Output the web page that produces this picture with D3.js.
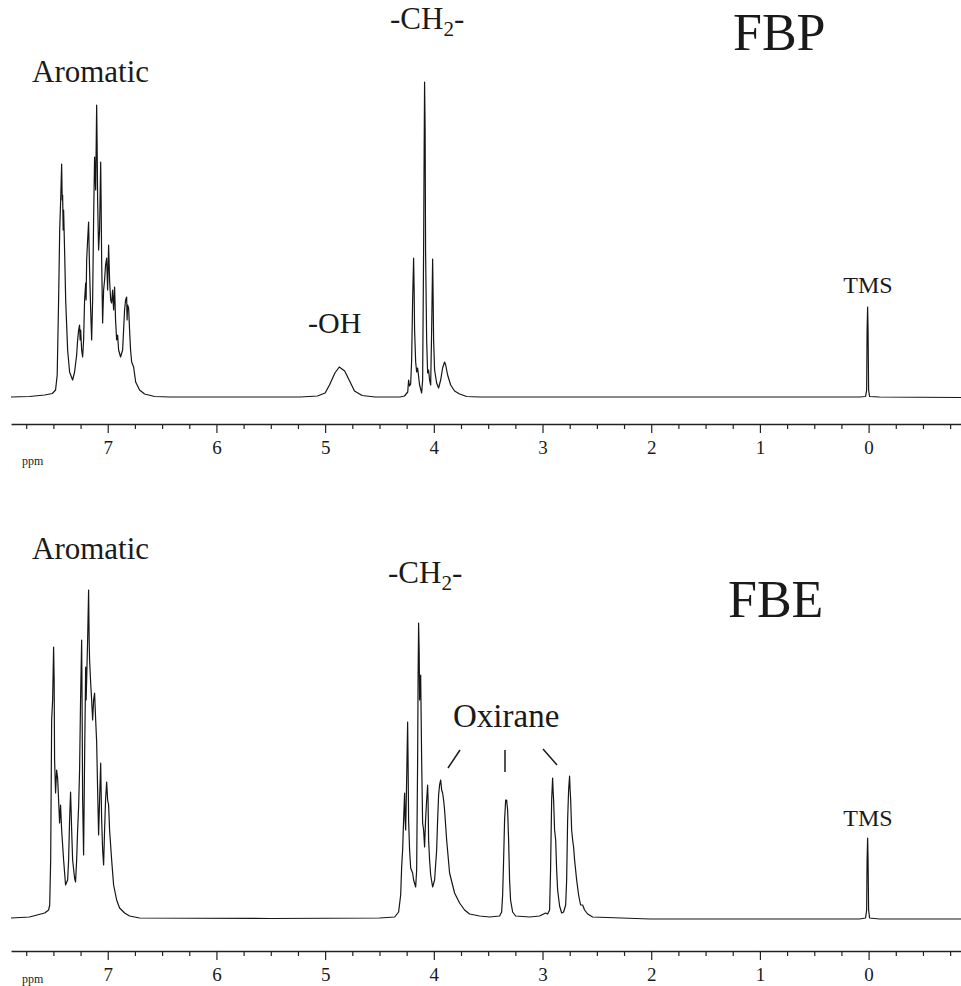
<!DOCTYPE html>
<html><head><meta charset="utf-8">
<script src="https://cdn.jsdelivr.net/npm/d3@7"></script>
<style>
body{margin:0;background:#fff}
text{font-family:"Liberation Serif","Times New Roman",serif;fill:#1a1a1a}
</style>
</head><body>
<svg id="chart" width="961" height="986"></svg>
<script>
// ---------- DATA (ppm, relative intensity in a.u.) ----------
const majorTicks = [7, 6, 5, 4, 3, 2, 1, 0];
const minorTicks = [7.75,7.5,7.25,6.75,6.5,6.25,5.75,5.5,5.25,4.75,4.5,4.25,3.75,3.5,3.25,2.75,2.5,2.25,1.75,1.5,1.25,0.75,0.5,0.25,-0.25,-0.5,-0.75];
const ppmDomain = [7.89, -0.85];

const fbpSpectrum = [
[7.89,0],[7.72,0.5],[7.58,2],[7.51,3.5],[7.48,7],[7.465,22],[7.452,97],[7.442,167],[7.433,197],[7.424,233],
[7.419,197],[7.415,202],[7.410,167],[7.406,187],[7.397,147],[7.387,97],[7.369,47],[7.351,25],[7.323,17],[7.305,25],
[7.286,42],[7.277,57],[7.268,67],[7.259,72],[7.254,57],[7.249,67],[7.240,47],[7.231,40],[7.222,57],[7.213,97],
[7.203,114],[7.199,97],[7.194,137],[7.185,157],[7.176,175],[7.171,147],[7.167,127],[7.157,87],[7.148,57],[7.139,97],
[7.130,177],[7.121,240],[7.111,207],[7.102,292],[7.098,257],[7.093,197],[7.084,147],[7.075,167],[7.065,235],[7.061,197],
[7.056,137],[7.047,74],[7.038,107],[7.029,117],[7.020,132],[7.010,139],[7.001,107],[6.992,152],[6.983,117],[6.973,97],
[6.964,94],[6.955,107],[6.946,87],[6.937,110],[6.928,77],[6.918,57],[6.909,62],[6.900,47],[6.882,40],[6.863,47],
[6.854,67],[6.845,87],[6.836,97],[6.826,100],[6.822,77],[6.817,92],[6.808,89],[6.799,67],[6.790,47],[6.780,35],
[6.762,30],[6.743,15],[6.707,7],[6.661,3],[6.569,0.5],[6.43,0],
[5.23,0],[5.07,1],[5.00,4],[4.96,12],[4.91,24],[4.87,30],[4.82,26],[4.77,15],[4.73,6],[4.66,1.5],[4.54,0],
[4.31,0],[4.27,1],[4.24,5],[4.232,17],[4.223,11],[4.213,13],[4.204,37],[4.195,97],[4.186,139],[4.181,107],
[4.177,67],[4.167,35],[4.158,25],[4.149,29],[4.131,12],[4.112,4],[4.103,17],[4.094,147],[4.089,247],[4.085,315],
[4.080,267],[4.076,147],[4.066,57],[4.057,24],[4.048,27],[4.039,17],[4.029,12],[4.020,67],[4.011,138],[4.006,97],
[4.002,57],[3.993,27],[3.974,14],[3.956,9],[3.937,17],[3.919,29],[3.901,35],[3.891,32],[3.873,22],[3.845,12],
[3.809,6],[3.763,3],[3.698,0.5],[3.58,0],
[0.083,0],[0.028,0.5],[0.018,7],[0.014,67],[0.009,90],[0.005,67],[0.0,7],[-0.009,0.5],[-0.10,0],[-0.85,-0.5]
];

const fbeSpectrum = [
[7.89,0],[7.72,1],[7.58,5],[7.544,8],[7.534,13],[7.525,58],[7.516,198],[7.507,218],[7.498,271],[7.493,238],
[7.489,158],[7.480,125],[7.470,148],[7.461,140],[7.452,118],[7.443,95],[7.434,113],[7.424,88],[7.406,58],[7.388,33],
[7.369,38],[7.360,58],[7.351,98],[7.342,126],[7.337,108],[7.332,88],[7.323,58],[7.305,40],[7.296,36],[7.286,58],
[7.277,88],[7.268,111],[7.259,148],[7.250,218],[7.240,278],[7.236,218],[7.231,118],[7.222,63],[7.213,158],[7.203,251],
[7.199,218],[7.194,238],[7.185,278],[7.176,328],[7.171,278],[7.167,258],[7.157,235],[7.148,218],[7.139,198],[7.130,218],
[7.121,225],[7.111,198],[7.102,176],[7.093,128],[7.084,83],[7.075,118],[7.065,155],[7.061,128],[7.056,98],[7.047,68],
[7.038,53],[7.029,88],[7.020,118],[7.010,136],[7.001,118],[6.992,113],[6.983,88],[6.964,58],[6.946,33],[6.918,18],
[6.891,10],[6.845,5],[6.799,2],[6.707,0],[5.5,-0.5],
[4.50,0],[4.36,1],[4.324,6],[4.305,23],[4.296,51],[4.287,68],[4.278,98],[4.269,125],[4.264,98],[4.259,88],
[4.250,138],[4.241,196],[4.237,158],[4.232,98],[4.223,68],[4.213,50],[4.195,45],[4.186,38],[4.167,31],[4.158,48],
[4.149,158],[4.145,238],[4.140,295],[4.135,268],[4.131,218],[4.121,243],[4.112,158],[4.103,95],[4.094,88],[4.085,71],
[4.076,98],[4.066,118],[4.057,133],[4.053,118],[4.048,78],[4.039,58],[4.029,43],[4.011,31],[3.993,38],[3.974,68],
[3.965,98],[3.956,123],[3.947,133],[3.937,138],[3.928,128],[3.919,125],[3.910,118],[3.901,108],[3.882,78],[3.855,45],
[3.809,25],[3.763,15],[3.717,8],[3.671,4],[3.579,2],[3.487,1],[3.395,2],[3.376,6],[3.367,23],[3.358,58],
[3.349,98],[3.339,118],[3.330,118],[3.321,108],[3.312,78],[3.303,38],[3.294,18],[3.275,6],[3.247,2],[3.119,1],
[3.027,2],[2.990,4],[2.971,5],[2.953,4],[2.935,8],[2.926,48],[2.916,118],[2.907,140],[2.903,128],[2.898,118],
[2.889,88],[2.879,78],[2.870,48],[2.861,28],[2.843,12],[2.824,5],[2.806,6],[2.787,13],[2.778,38],[2.769,98],
[2.760,128],[2.751,142],[2.746,128],[2.741,118],[2.732,88],[2.723,78],[2.714,71],[2.705,58],[2.686,38],[2.668,23],
[2.650,13],[2.631,13],[2.613,8],[2.585,4],[2.539,1],[2.01,-1],
[0.083,-1],[0.028,0],[0.018,8],[0.014,58],[0.009,80],[0.005,58],[0.0,8],[-0.009,0],[-0.10,-1],[-0.85,-1]
];

// ---------- LAYOUT ----------
const svg = d3.select("#chart");
const x = d3.scaleLinear().domain(ppmDomain).range([11, 961]);
const panels = [
  {data: fbpSpectrum, y: d3.scaleLinear().domain([0, 315]).range([397, 82]), axisY: 424, ppmY: 465},
  {data: fbeSpectrum, y: d3.scaleLinear().domain([0, 328]).range([918, 590]), axisY: 951, ppmY: 983}
];

panels.forEach(p => {
  const line = d3.line().x(d => x(d[0])).y(d => p.y(d[1]));
  svg.append("path").datum(p.data).attr("d", line)
    .attr("fill", "none").attr("stroke", "#151515").attr("stroke-width", 1.2)
    .attr("stroke-linejoin", "round");

  const gMinor = svg.append("g").attr("transform", `translate(0,${p.axisY})`)
    .call(d3.axisBottom(x).tickValues(minorTicks).tickSize(5).tickSizeOuter(0).tickFormat(""));
  gMinor.select(".domain").remove();
  gMinor.selectAll("line").attr("stroke", "#222").attr("stroke-width", 1.2);

  const gMajor = svg.append("g").attr("transform", `translate(0,${p.axisY})`)
    .call(d3.axisBottom(x).tickValues(majorTicks).tickSize(9).tickSizeOuter(0).tickPadding(8).tickFormat(d3.format("d")));
  gMajor.select(".domain").attr("stroke", "#222").attr("stroke-width", 1.4);
  gMajor.selectAll("line").attr("stroke", "#222").attr("stroke-width", 1.2);
  gMajor.selectAll("text").attr("font-family", '"Liberation Serif",serif').attr("font-size", 19).attr("fill", "#1a1a1a");

  svg.append("text").attr("x", 22).attr("y", p.ppmY).attr("font-size", 12).text("ppm");
});

// ---------- LABELS ----------
function label(txt, xp, yp, size, anchor) {
  return svg.append("text").attr("x", xp).attr("y", yp).attr("font-size", size)
    .attr("text-anchor", anchor || "start").text(txt);
}
function ch2(xp, yp, size) {
  const t = svg.append("text").attr("x", xp).attr("y", yp).attr("font-size", size);
  t.append("tspan").text("-CH");
  t.append("tspan").attr("dy", 7).attr("font-size", size * 0.68).text("2");
  t.append("tspan").attr("dy", -7).text("-");
}
// top panel
label("Aromatic", 32, 82, 31);
ch2(390, 29, 31);
label("FBP", 733, 50, 52);
label("-OH", 308, 333, 30);
label("TMS", 868, 293, 24, "middle");
// bottom panel
label("Aromatic", 32, 559, 31);
ch2(388, 583, 31);
label("FBE", 728, 617, 52);
label("Oxirane", 453, 727, 33);
label("TMS", 868, 826, 24, "middle");

const pointers = [[[460,750],[448,768]], [[505,750],[505,772]], [[543,749],[557,765]]];
pointers.forEach(seg => svg.append("line")
  .attr("x1", seg[0][0]).attr("y1", seg[0][1]).attr("x2", seg[1][0]).attr("y2", seg[1][1])
  .attr("stroke", "#1a1a1a").attr("stroke-width", 1.5));
</script>
</body></html>
